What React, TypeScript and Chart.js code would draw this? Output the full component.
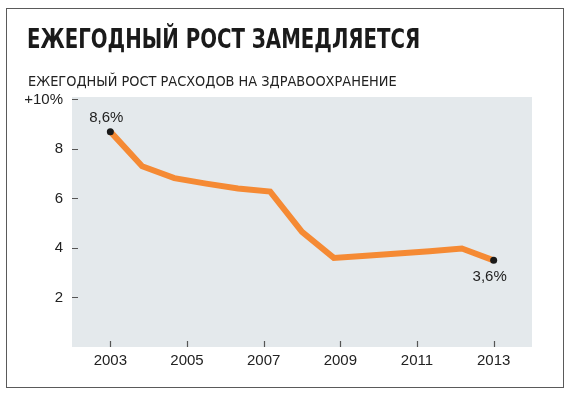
import React, { useEffect, useRef } from "react";
import { Chart, registerables } from "chart.js";

Chart.register(...registerables);

const titleText = "ЕЖЕГОДНЫЙ РОСТ ЗАМЕДЛЯЕТСЯ";
const subtitleText = "ЕЖЕГОДНЫЙ РОСТ РАСХОДОВ НА ЗДРАВООХРАНЕНИЕ";

// observation times (years) and annual growth of health spending, %
const years = [2003, 2003.83, 2004.67, 2005.5, 2006.33, 2007.17, 2008, 2008.83, 2009.67, 2010.5, 2011.33, 2012.17, 2013];
const growth = [8.7, 7.3, 6.82, 6.6, 6.4, 6.28, 4.65, 3.6, 3.69, 3.78, 3.87, 3.98, 3.5];

const xTicks = [2003, 2005, 2007, 2009, 2011, 2013];
const yTicks = [2, 4, 6, 8, 10];
const yTickLabels = ["2", "4", "6", "8", "+10%"];

const firstLabel = "8,6%";
const lastLabel = "3,6%";

const FONT = "'Liberation Sans', Arial, sans-serif";
const NARROW = "'Liberation Sans Narrow', 'DejaVu Sans Condensed', 'Roboto Condensed', 'Liberation Sans', sans-serif";

const decorPlugin = {
  id: "decor",
  beforeDraw(chart: any) {
    const { ctx, chartArea } = chart;
    ctx.save();
    ctx.fillStyle = "#e4e9ec";
    ctx.fillRect(chartArea.left, chartArea.top, chartArea.right - chartArea.left, chartArea.bottom - chartArea.top);
    const ys = chart.scales.y;
    const xs = chart.scales.x;
    ctx.strokeStyle = "#555";
    ctx.lineWidth = 1.2;
    ctx.beginPath();
    for (const v of yTicks) {
      const py = Math.round(ys.getPixelForValue(v)) + 0.5;
      ctx.moveTo(chartArea.left, py);
      ctx.lineTo(chartArea.left + 6, py);
    }
    for (const v of xTicks) {
      const px = Math.round(xs.getPixelForValue(v)) + 0.5;
      ctx.moveTo(px, chartArea.bottom);
      ctx.lineTo(px, chartArea.bottom - 6);
    }
    ctx.stroke();
    ctx.restore();
  },
  afterDatasetsDraw(chart: any) {
    const { ctx } = chart;
    const meta = chart.getDatasetMeta(0);
    const first = meta.data[0];
    const last = meta.data[meta.data.length - 1];
    ctx.save();
    ctx.fillStyle = "#222";
    ctx.font = "15px " + FONT;
    ctx.textAlign = "center";
    ctx.textBaseline = "middle";
    ctx.fillText(firstLabel, first.x - 4, first.y - 14);
    ctx.fillText(lastLabel, last.x - 4, last.y + 16);
    ctx.restore();
  },
};

export default function App() {
  const ref = useRef<HTMLCanvasElement | null>(null);
  useEffect(() => {
    if (!ref.current) return;
    const chart = new Chart(ref.current, {
      type: "line",
      data: {
        datasets: [
          {
            data: years.map((x, i) => ({ x, y: growth[i] })),
            borderColor: "#f58a34",
            borderWidth: 6,
            borderJoinStyle: "miter",
            tension: 0,
            pointRadius: (c: any) => (c.dataIndex === 0 || c.dataIndex === years.length - 1 ? 3.5 : 0),
            pointBackgroundColor: "#1a1a1a",
            pointBorderWidth: 0,
            pointHoverRadius: 0,
            clip: false as any,
          },
        ],
      },
      options: {
        animation: false,
        responsive: false,
        devicePixelRatio: 1,
        layout: { padding: { left: 0, top: 97, right: 49, bottom: 0 } },
        plugins: { legend: { display: false }, tooltip: { enabled: false } },
        scales: {
          x: {
            type: "linear",
            min: 2002,
            max: 2014,
            afterFit: (s: any) => {
              s.height = 51;
            },
            afterBuildTicks: (s: any) => {
              s.ticks = xTicks.map((v) => ({ value: v }));
            },
            grid: { display: false, drawTicks: false },
            border: { display: false },
            ticks: {
              color: "#222",
              font: { family: FONT, size: 15 },
              padding: 5,
              callback: (v: any) => String(v),
            },
          },
          y: {
            type: "linear",
            min: 0,
            max: 10.1,
            afterFit: (s: any) => {
              s.width = 72;
            },
            afterBuildTicks: (s: any) => {
              s.ticks = yTicks.map((v) => ({ value: v }));
            },
            grid: { display: false, drawTicks: false },
            border: { display: false },
            ticks: {
              color: "#222",
              font: { family: FONT, size: 15 },
              padding: 9,
              callback: (v: any) => yTickLabels[yTicks.indexOf(v)] ?? "",
            },
          },
        },
      },
      plugins: [decorPlugin],
    });
    return () => chart.destroy();
  }, []);

  return (
    <div style={{ position: "fixed", left: 0, top: 0, width: 581, height: 398, background: "#fff" }}>
      <div
        style={{
          position: "absolute",
          left: 6,
          top: 8,
          width: 558,
          height: 380,
          boxSizing: "border-box",
          border: "1.5px solid #5a5a5a",
        }}
      />
      <canvas ref={ref} width={581} height={398} style={{ position: "absolute", left: 0, top: 0, width: 581, height: 398 }} />
      <div
        style={{
          position: "absolute",
          left: 27,
          top: 26,
          fontFamily: NARROW,
          fontStretch: "condensed",
          fontWeight: 700,
          fontSize: 26,
          lineHeight: 1,
          color: "#1a1a1a",
          whiteSpace: "nowrap",
          transform: "scaleX(0.845)",
          transformOrigin: "0 0",
        }}
      >
        {titleText}
      </div>
      <div
        style={{
          position: "absolute",
          left: 28,
          top: 74,
          fontFamily: NARROW,
          fontStretch: "condensed",
          fontSize: 14.4,
          lineHeight: 1,
          color: "#222",
          whiteSpace: "nowrap",
        }}
      >
        {subtitleText}
      </div>
    </div>
  );
}
